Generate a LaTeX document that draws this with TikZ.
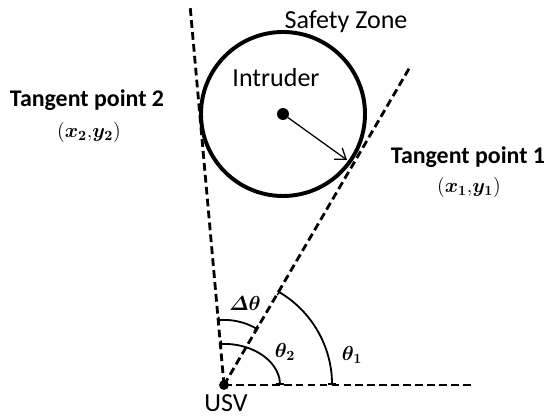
\documentclass[tikz,border=0pt]{standalone}
\usepackage{amsmath}
\usepackage{fontspec}
\setmainfont{Carlito}
\usetikzlibrary{arrows.meta}

\begin{document}
\begin{tikzpicture}[x=0.025cm, y=0.025cm,
    every node/.style={font=\fontsize{18.5}{20}\selectfont},
    negrita/.style={font=\fontsize{17}{19}\selectfont\bfseries},
    formula/.style={font=\fontsize{14.4}{16}\selectfont},
    tangente/.style={dash pattern=on 5.5pt off 3pt, line width=2pt},
    arco/.style={line width=1.3pt, {Bar[width=5pt,line width=1.1pt]}-{Bar[width=5pt,line width=1.1pt]}},
    punto/.style={circle, fill, inner sep=0pt, minimum size=7pt}]
    \useasboundingbox (0,0) rectangle (546,419);
    % Puntos base
    \coordinate (usv) at (224,34);
    \coordinate (c) at (283,305);
    \coordinate (top2) at (190,414);
    \coordinate (top1) at (410,352);
    \coordinate (fin) at (473,34);
    \coordinate (t1) at (347,259);
    % Zona de seguridad
    \draw[line width=2.8pt] (c) circle (82);
    % Tangentes
    \draw[tangente] (usv) -- (top2);
    \draw[tangente] (usv) -- (top1);
    \draw[tangente, line width=1.5pt] (usv) -- (fin);
    % Angulos
    \draw[arco] (usv) ++(95.1:65) arc[start angle=95.1, end angle=59.75, radius=65];
    \draw[arco] (usv) ++(59.75:108) arc[start angle=59.75, end angle=0, radius=108];
    \draw[arco] (usv) ++(93.7:56 and 41) arc[start angle=93.7, end angle=0, x radius=56, y radius=41];
    % Puntos
    \node[punto] (usvdot) at (usv) {};
    \node[punto, minimum size=8.5pt] (cdot) at (c) {};
    % Radio
    \draw[-{Straight Barb[length=7pt,width=10pt]}, line width=0.9pt] (cdot) -- (t1);
    % Etiquetas
    \node (sz) at (346,397) {Safety Zone};
    \node (intr) at (276,341) {Intruder};
    \node[negrita] (tp2) at (87,319) {Tangent point 2};
    \node[formula] (p2) at (89,287) {$(\boldsymbol{x_2}{,}\boldsymbol{y_2})$};
    \node[negrita] (tp1) at (468,262) {Tangent point 1};
    \node[formula] (p1) at (469,232) {$(\boldsymbol{x_1}{,}\boldsymbol{y_1})$};
    \node (usvl) at (226,16) {USV};
    \node[formula] (dt) at (245,116) {$\boldsymbol{\varDelta\theta}$};
    \node[formula] (th2) at (285,67) {$\boldsymbol{\theta_2}$};
    \node[formula] (th1) at (352,64) {$\boldsymbol{\theta_1}$};
\end{tikzpicture}
\end{document}
